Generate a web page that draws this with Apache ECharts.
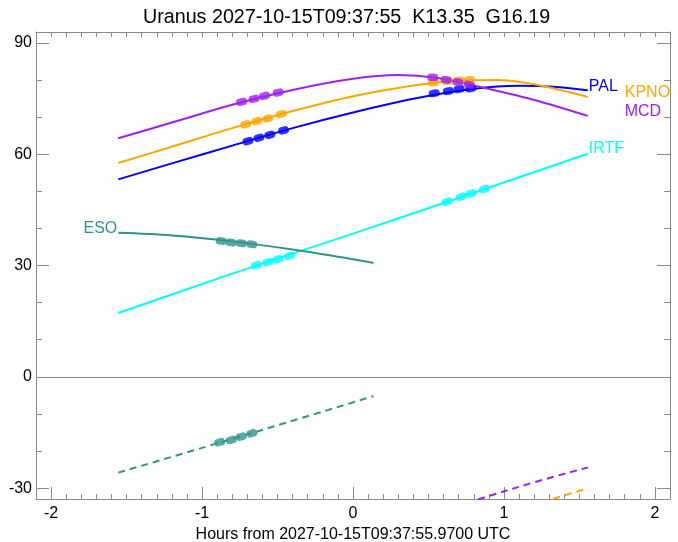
<!DOCTYPE html>
<html><head><meta charset="utf-8">
<script src="https://cdn.jsdelivr.net/npm/echarts@6/dist/echarts.min.js"></script>
<style>html,body{margin:0;padding:0;background:#fff}#c{width:678px;height:542px}</style>
</head><body><div id="c"></div>
<script>
// ---- data ----
const titleText = 'Uranus 2027-10-15T09:37:55  K13.35  G16.19';
const xName = 'Hours from 2027-10-15T09:37:55.9700 UTC';
const xRange = [-2.1, 2.1];
const yRange = [-32.9, 92.9];
const xMajor = [-2, -1, 0, 1, 2];
const xMinor = [-2.0,-1.9,-1.8,-1.7,-1.6,-1.5,-1.4,-1.3,-1.2,-1.1,-1.0,-0.9,-0.8,-0.7,-0.6,-0.5,-0.4,-0.3,-0.2,-0.1,0,
                0.1,0.2,0.3,0.4,0.5,0.6,0.7,0.8,0.9,1.0,1.1,1.2,1.3,1.4,1.5,1.6,1.7,1.8,1.9,2.0];
const yMajor = [-30, 0, 30, 60, 90];
const yMinor = [-30, -20, -10, 0, 10, 20, 30, 40, 50, 60, 70, 80, 90];

const stations = ['PAL', 'KPNO', 'MCD', 'IRTF', 'ESO'];

const palCurve  = [[-1.555,53.2],[-1.2,57.5],[-0.8,62.3],[-0.4,67.0],[0,71.2],[0.4,74.9],[0.8,77.6],[1.1,78.4],[1.35,78.1],[1.555,77.2]];
const kpnoCurve = [[-1.555,57.6],[-1.2,62.0],[-0.8,67.0],[-0.4,71.6],[0,75.6],[0.4,78.5],[0.7,79.8],[0.95,80.0],[1.2,78.8],[1.555,75.4]];
const mcdCurve  = [[-1.555,64.3],[-1.2,68.5],[-0.8,73.3],[-0.4,77.3],[0,80.3],[0.3,81.3],[0.55,80.6],[0.8,78.5],[1.2,74.6],[1.555,70.3]];
const irtfCurve = [[-1.555,17.2],[-0.8,27.8],[0,38.6],[0.8,49.6],[1.555,60.1]];
const esoCurve  = [[-1.555,38.8],[-1.2,38.1],[-0.8,36.5],[-0.4,34.3],[0,31.7],[0.136,30.7]];

const esoLowCurve = [[-1.555,-25.8],[-0.7,-15.5],[0.136,-5.2]];
const mcdLowCurve = [[0.6,-35.9],[0.837,-32.9],[1.2,-28.4],[1.555,-24.4]];
const kpnoLowCurve = [[1.1,-35.7],[1.322,-32.9],[1.555,-30.0]];

const palDots  = [[-0.696,63.5],[-0.623,64.4],[-0.551,65.2],[-0.460,66.4],[0.538,76.4],[0.632,77.0],[0.703,77.5],[0.780,77.7]];
const kpnoDots = [[-0.711,68.0],[-0.637,68.9],[-0.564,69.6],[-0.475,70.8],[0.533,79.3],[0.627,79.7],[0.705,79.9],[0.771,80.0]];
const mcdDots  = [[-0.738,74.1],[-0.655,74.9],[-0.586,75.7],[-0.496,76.6],[0.528,80.7],[0.617,80.0],[0.694,79.4],[0.771,78.7]];
const irtfDots = [[-0.641,30.1],[-0.564,30.9],[-0.498,31.7],[-0.420,32.6],[0.623,47.2],[0.716,48.5],[0.782,49.4],[0.870,50.6]];
const esoDots  = [[-0.872,36.6],[-0.806,36.2],[-0.740,36.0],[-0.670,35.7]];
const esoLowDots = [[-0.883,-17.6],[-0.806,-17.0],[-0.740,-16.1],[-0.670,-15.2]];

// ---- style ----
const COLORS = { PAL:'#0000ff', KPNO:'#ffa500', MCD:'#a020f0', IRTF:'#00ffff', ESO:'#2f958a' };
const GRAY = '#8a8a8a';
const FONT = '"Liberation Sans", Arial, Helvetica, sans-serif';
const GRID = { left: 36, top: 32, right: 8, bottom: 43 };
const W = 678 - GRID.left - GRID.right, H = 542 - GRID.top - GRID.bottom;
const ratio = (H / (yRange[1] - yRange[0])) / (W / (xRange[1] - xRange[0]));
const CAPSULE = 'path://M3.5,0 H7.5 A3.5,3.5 0 0 1 7.5,7 H3.5 A3.5,3.5 0 0 1 3.5,0 Z';

function slopeAt(curve, x) {
  for (let i = 0; i < curve.length - 1; i++) {
    if (x >= curve[i][0] && x <= curve[i+1][0]) {
      return (curve[i+1][1] - curve[i][1]) / (curve[i+1][0] - curve[i][0]);
    }
  }
  return 0;
}

function lineSeries(curve, color, dashed, z) {
  return {
    type: 'line', data: curve, showSymbol: false, symbol: 'none', smooth: 0.35,
    clip: true, silent: true, z: z || 2,
    lineStyle: { color: color, width: 2, type: dashed ? [7, 5] : 'solid' }
  };
}
function dotSeries(dots, curve, color) {
  return {
    type: 'scatter', symbol: CAPSULE, symbolSize: [11, 7.5], silent: true, z: 5,
    itemStyle: { color: color },
    data: dots.map(p => ({ value: p, symbolRotate: Math.atan(slopeAt(curve, p[0]) * ratio) * 180 / Math.PI }))
  };
}
function labelPoint(pt, text, color, position, offset) {
  return {
    symbol: 'circle', symbolSize: 0, silent: true, animation: false,
    data: [{ coord: pt, value: text }],
    label: { show: true, formatter: text, position: position, distance: 0, offset: offset,
             color: color, fontSize: 16, fontFamily: FONT }
  };
}

const series = [];
const pal = lineSeries(palCurve, COLORS.PAL);
pal.markPoint = labelPoint(palCurve[palCurve.length-1], 'PAL', COLORS.PAL, 'right', [1, -4]);
pal.markLine = { silent: true, symbol: ['none','none'], animation: false,
  label: { show: false }, lineStyle: { color: GRAY, width: 1, type: 'solid' }, data: [{ yAxis: 0 }] };
series.push(pal);
const kpno = lineSeries(kpnoCurve, COLORS.KPNO);
kpno.markPoint = labelPoint(kpnoCurve[kpnoCurve.length-1], 'KPNO', COLORS.KPNO, 'right', [37, -4]);
series.push(kpno);
const mcd = lineSeries(mcdCurve, COLORS.MCD);
mcd.markPoint = labelPoint(mcdCurve[mcdCurve.length-1], 'MCD', COLORS.MCD, 'right', [37, -4]);
series.push(mcd);
const irtf = lineSeries(irtfCurve, COLORS.IRTF);
irtf.markPoint = labelPoint(irtfCurve[irtfCurve.length-1], 'IRTF', COLORS.IRTF, 'right', [1, -5]);
series.push(irtf);
const eso = lineSeries(esoCurve, COLORS.ESO);
eso.markPoint = labelPoint(esoCurve[0], 'ESO', COLORS.ESO, 'left', [-1, -4]);
series.push(eso);
series.push(lineSeries(esoLowCurve, COLORS.ESO, true));
series.push(lineSeries(mcdLowCurve, COLORS.MCD, true));
series.push(lineSeries(kpnoLowCurve, COLORS.KPNO, true));
series.push(dotSeries(palDots, palCurve, COLORS.PAL));
series.push(dotSeries(kpnoDots, kpnoCurve, COLORS.KPNO));
series.push(dotSeries(mcdDots, mcdCurve, COLORS.MCD));
series.push(dotSeries(irtfDots, irtfCurve, COLORS.IRTF));
series.push(dotSeries(esoDots, esoCurve, COLORS.ESO));
series.push(dotSeries(esoLowDots, esoLowCurve, COLORS.ESO));

const tickStyle = { color: GRAY, width: 1 };
const chart = echarts.init(document.getElementById('c'), null, { renderer: 'canvas' });
chart.setOption({
  animation: false,
  backgroundColor: '#fff',
  title: { text: titleText, left: 138, top: 3,
           textStyle: { fontSize: 19.7, fontWeight: 'normal', color: '#000', fontFamily: FONT } },
  grid: Object.assign({ outerBoundsMode: 'none', containLabel: false }, GRID),
  xAxis: [
    { type: 'value', position: 'bottom', min: xRange[0], max: xRange[1],
      axisLine: { show: true, onZero: false, lineStyle: tickStyle },
      axisTick: { show: true, inside: true, length: 12, customValues: xMajor, lineStyle: tickStyle },
      axisLabel: { show: true, customValues: xMajor, margin: 7, fontSize: 16, color: '#000', fontFamily: FONT },
      splitLine: { show: false },
      name: xName, nameLocation: 'middle', nameGap: 21,
      nameTextStyle: { fontSize: 16, color: '#000', fontFamily: FONT } },
    { type: 'value', position: 'bottom', min: xRange[0], max: xRange[1],
      axisLine: { show: false, onZero: false },
      axisTick: { show: true, inside: true, length: 5, customValues: xMinor, lineStyle: tickStyle },
      axisLabel: { show: false }, splitLine: { show: false } },
    { type: 'value', position: 'top', min: xRange[0], max: xRange[1],
      axisLine: { show: true, onZero: false, lineStyle: tickStyle },
      axisTick: { show: true, inside: true, length: 5, customValues: xMinor, lineStyle: tickStyle },
      axisLabel: { show: false }, splitLine: { show: false } }
  ],
  yAxis: [
    { type: 'value', position: 'left', min: yRange[0], max: yRange[1],
      axisLine: { show: true, onZero: false, lineStyle: tickStyle },
      axisTick: { show: true, inside: true, length: 13, customValues: yMajor, lineStyle: tickStyle },
      axisLabel: { show: true, customValues: yMajor, margin: 4, fontSize: 16, color: '#000', fontFamily: FONT },
      splitLine: { show: false } },
    { type: 'value', position: 'left', min: yRange[0], max: yRange[1],
      axisLine: { show: false, onZero: false },
      axisTick: { show: true, inside: true, length: 6, customValues: yMinor, lineStyle: tickStyle },
      axisLabel: { show: false }, splitLine: { show: false } },
    { type: 'value', position: 'right', min: yRange[0], max: yRange[1],
      axisLine: { show: true, onZero: false, lineStyle: tickStyle },
      axisTick: { show: true, inside: true, length: 13, customValues: yMajor, lineStyle: tickStyle },
      axisLabel: { show: false }, splitLine: { show: false } },
    { type: 'value', position: 'right', min: yRange[0], max: yRange[1],
      axisLine: { show: false, onZero: false },
      axisTick: { show: true, inside: true, length: 6, customValues: yMinor, lineStyle: tickStyle },
      axisLabel: { show: false }, splitLine: { show: false } }
  ],
  series: series
});
</script></body></html>
